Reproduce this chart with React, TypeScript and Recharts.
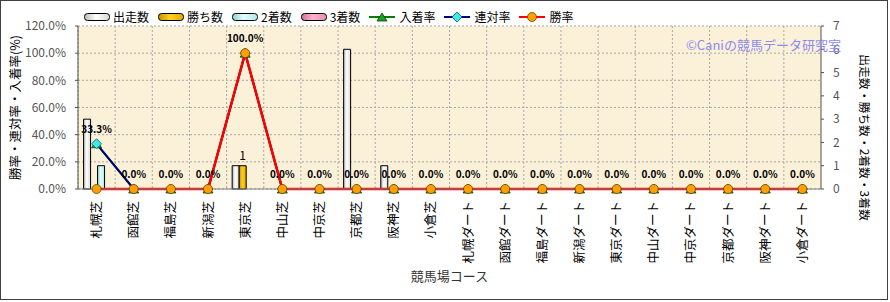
import { ComposedChart, Bar, Line, XAxis, YAxis, CartesianGrid, LabelList, Label } from 'recharts';

// 競馬場コース別成績
const categories = [
  '札幌芝', '函館芝', '福島芝', '新潟芝', '東京芝', '中山芝', '中京芝', '京都芝', '阪神芝', '小倉芝',
  '札幌ダート', '函館ダート', '福島ダート', '新潟ダート', '東京ダート', '中山ダート', '中京ダート', '京都ダート', '阪神ダート', '小倉ダート',
];
const starts = [3, 0, 0, 0, 1, 0, 0, 6, 1, 0, 0, 0, 0, 0, 0, 0, 0, 0, 0, 0];
const wins = [0, 0, 0, 0, 1, 0, 0, 0, 0, 0, 0, 0, 0, 0, 0, 0, 0, 0, 0, 0];
const seconds = [1, 0, 0, 0, 0, 0, 0, 0, 0, 0, 0, 0, 0, 0, 0, 0, 0, 0, 0, 0];
const thirds = [0, 0, 0, 0, 0, 0, 0, 0, 0, 0, 0, 0, 0, 0, 0, 0, 0, 0, 0, 0];
const placeRate = [33.3, 0, 0, 0, 100, 0, 0, 0, 0, 0, 0, 0, 0, 0, 0, 0, 0, 0, 0, 0];
const rentaiRate = [33.3, 0, 0, 0, 100, 0, 0, 0, 0, 0, 0, 0, 0, 0, 0, 0, 0, 0, 0, 0];
const winRate = [0, 0, 0, 0, 100, 0, 0, 0, 0, 0, 0, 0, 0, 0, 0, 0, 0, 0, 0, 0];

const leftTicks = [0, 20, 40, 60, 80, 100, 120];
const rightTicks = [0, 1, 2, 3, 4, 5, 6, 7];

const data = categories.map((name, i) => ({
  name,
  starts: starts[i],
  wins: wins[i],
  seconds: seconds[i],
  thirds: thirds[i],
  placeRate: placeRate[i],
  rentaiRate: rentaiRate[i],
  winRate: winRate[i],
}));

const FONT = '"Noto Sans CJK JP", "Noto Sans", sans-serif';

const VerticalTick = ({ x, y, payload }: any) => {
  const ty = y + 4;
  return (
    <text
      x={x}
      y={ty}
      transform={`rotate(-90 ${x} ${ty})`}
      textAnchor="end"
      dy="0.36em"
      fontSize={12.5}
      fill="#000"
      fontFamily={FONT}
    >
      {payload.value}
    </text>
  );
};

const Triangle = ({ cx, cy }: any) => {
  if (cx == null || cy == null) return null;
  return (
    <polygon
      points={`${cx},${cy - 4} ${cx - 5},${cy + 4} ${cx + 5},${cy + 4}`}
      fill="#20a020"
      stroke="#004000"
      strokeWidth={0.8}
    />
  );
};

const Diamond = ({ cx, cy }: any) => {
  if (cx == null || cy == null) return null;
  return (
    <polygon
      points={`${cx},${cy - 5} ${cx + 5},${cy} ${cx},${cy + 5} ${cx - 5},${cy}`}
      fill="#40e8e8"
      stroke="#006060"
      strokeWidth={0.8}
    />
  );
};

const Circle = ({ cx, cy }: any) => {
  if (cx == null || cy == null) return null;
  return <circle cx={cx} cy={cy} r={4.5} fill="#ffa000" stroke="#704000" strokeWidth={0.8} />;
};

const RightAxisTitle = ({ viewBox }: any) => {
  const x = viewBox.x + 43;
  const y = viewBox.y + viewBox.height / 2 + 30;
  return (
    <text
      x={x}
      y={y}
      transform={`rotate(90 ${x} ${y})`}
      textAnchor="middle"
      dy="0.36em"
      fontSize={11.8}
      fill="#000"
      fontFamily={FONT}
    >
      出走数・勝ち数・2着数・3着数
    </text>
  );
};

const barLegend = [
  { label: '出走数', fill: 'url(#gStarts)' },
  { label: '勝ち数', fill: 'url(#gWins)' },
  { label: '2着数', fill: 'url(#gSeconds)' },
  { label: '3着数', fill: 'url(#gThirds)' },
];
const lineLegend = [
  { label: '入着率', color: '#008000', marker: 'tri' },
  { label: '連対率', color: '#000080', marker: 'dia' },
  { label: '勝率', color: '#ff0000', marker: 'cir' },
];

function Gradients() {
  return (
    <defs>
      <linearGradient id="gStarts" x1="0" y1="0" x2="1" y2="0">
        <stop offset="0%" stopColor="#b8b8b8" />
        <stop offset="45%" stopColor="#ffffff" />
        <stop offset="100%" stopColor="#d8d8d8" />
      </linearGradient>
      <linearGradient id="gWins" x1="0" y1="0" x2="1" y2="0">
        <stop offset="0%" stopColor="#c09000" />
        <stop offset="45%" stopColor="#ffd020" />
        <stop offset="100%" stopColor="#e0a800" />
      </linearGradient>
      <linearGradient id="gSeconds" x1="0" y1="0" x2="1" y2="0">
        <stop offset="0%" stopColor="#90d0d0" />
        <stop offset="45%" stopColor="#e0ffff" />
        <stop offset="100%" stopColor="#b0e8e8" />
      </linearGradient>
      <linearGradient id="gThirds" x1="0" y1="0" x2="1" y2="0">
        <stop offset="0%" stopColor="#d07090" />
        <stop offset="45%" stopColor="#ffb0d0" />
        <stop offset="100%" stopColor="#e090b0" />
      </linearGradient>
    </defs>
  );
}

function Legend() {
  return (
    <div
      style={{
        position: 'absolute',
        left: 83,
        top: 7,
        display: 'flex',
        alignItems: 'center',
        fontFamily: FONT,
        fontSize: 12,
        color: '#000',
        whiteSpace: 'nowrap',
      }}
    >
      {barLegend.map((b) => (
        <div key={b.label} style={{ display: 'flex', alignItems: 'center', marginRight: 9 }}>
          <svg width={27} height={10}>
            <Gradients />
            <rect x={0.5} y={1.5} width={25} height={7} rx={3} fill={b.fill} stroke="#000" strokeWidth={1} />
          </svg>
          <span style={{ marginLeft: 2 }}>{b.label}</span>
        </div>
      ))}
      {lineLegend.map((l) => (
        <div key={l.label} style={{ display: 'flex', alignItems: 'center', marginRight: 9 }}>
          <svg width={27} height={12}>
            <line x1={0} y1={6} x2={26} y2={6} stroke={l.color} strokeWidth={2} />
            {l.marker === 'tri' && <Triangle cx={13} cy={6} />}
            {l.marker === 'dia' && <Diamond cx={13} cy={6} />}
            {l.marker === 'cir' && <Circle cx={13} cy={6} />}
          </svg>
          <span style={{ marginLeft: 3 }}>{l.label}</span>
        </div>
      ))}
    </div>
  );
}

export default function App() {
  return (
    <div
      style={{
        position: 'absolute',
        left: 0,
        top: 0,
        width: 886,
        height: 298,
        border: '1px solid #404040',
        background: '#fff',
      }}
    >
      <Legend />
      <ComposedChart
        width={886}
        height={298}
        data={data}
        margin={{ top: 25, right: 18, bottom: 10, left: 17 }}
        barCategoryGap="15%"
        barGap={0}
      >
        <Gradients />
        <CartesianGrid
          yAxisId="left"
          stroke="#a8a8a8"
          strokeDasharray="2 2"
          fill="#fbf0d8"
          verticalCoordinatesGenerator={({ offset }: any) =>
            categories.map((_, i) => offset.left + (i * offset.width) / categories.length)
          }
        />
        <XAxis
          dataKey="name"
          interval={0}
          tick={<VerticalTick />}
          tickLine={false}
          axisLine={{ stroke: '#808080' }}
          height={100}
        >
          <Label value="競馬場コース" position="insideBottom" offset={8} fontSize={13} fill="#333" fontFamily={FONT} />
        </XAxis>
        <YAxis
          yAxisId="left"
          domain={[0, 120]}
          ticks={leftTicks}
          tickFormatter={(v: number) => `${v.toFixed(1)}%`}
          width={60}
          tick={{ fontSize: 12, fill: '#555', fontFamily: FONT }}
          tickSize={3}
          tickMargin={9}
          stroke="#505050"
          interval={0}
        >
          <Label
            value="勝率・連対率・入着率(%)"
            angle={-90}
            position="insideLeft"
            offset={-2}
            fontSize={12.5}
            fill="#000"
            fontFamily={FONT}
            style={{ textAnchor: 'middle' }}
          />
        </YAxis>
        <YAxis
          yAxisId="right"
          orientation="right"
          domain={[0, 7]}
          ticks={rightTicks}
          width={48}
          tick={{ fontSize: 12, fill: '#555', fontFamily: FONT }}
          tickSize={3}
          tickMargin={9}
          stroke="#505050"
          interval={0}
        >
          <Label content={<RightAxisTitle />} />
        </YAxis>
        <Bar yAxisId="right" dataKey="starts" fill="url(#gStarts)" stroke="#000" strokeWidth={1} isAnimationActive={false} />
        <Bar yAxisId="right" dataKey="wins" fill="url(#gWins)" stroke="#000" strokeWidth={1} isAnimationActive={false}>
          <LabelList
            dataKey="wins"
            position="top"
            offset={6}
            fontSize={12}
            fill="#000"
            fontFamily={FONT}
            formatter={(v: number) => (v > 0 ? v : '')}
          />
        </Bar>
        <Bar yAxisId="right" dataKey="seconds" fill="url(#gSeconds)" stroke="#000" strokeWidth={1} isAnimationActive={false} />
        <Bar yAxisId="right" dataKey="thirds" fill="url(#gThirds)" stroke="#000" strokeWidth={1} isAnimationActive={false} />
        <Line
          yAxisId="left"
          type="linear"
          dataKey="placeRate"
          stroke="#008000"
          strokeWidth={2}
          dot={<Triangle />}
          activeDot={false}
          isAnimationActive={false}
        >
          <LabelList
            dataKey="placeRate"
            position="top"
            offset={11}
            fontSize={10}
            fontWeight="bold"
            fill="#000"
            fontFamily={FONT}
            formatter={(v: number) => `${v.toFixed(1)}%`}
          />
        </Line>
        <Line
          yAxisId="left"
          type="linear"
          dataKey="rentaiRate"
          stroke="#000080"
          strokeWidth={2}
          dot={<Diamond />}
          activeDot={false}
          isAnimationActive={false}
        />
        <Line
          yAxisId="left"
          type="linear"
          dataKey="winRate"
          stroke="#ff0000"
          strokeWidth={2.5}
          dot={<Circle />}
          activeDot={false}
          isAnimationActive={false}
        />
      </ComposedChart>
      <div
        style={{
          position: 'absolute',
          left: 685,
          top: 34,
          fontFamily: FONT,
          fontSize: 13,
          color: '#8c8cf0',
          whiteSpace: 'nowrap',
        }}
      >
        ©Caniの競馬データ研究室
      </div>
    </div>
  );
}
